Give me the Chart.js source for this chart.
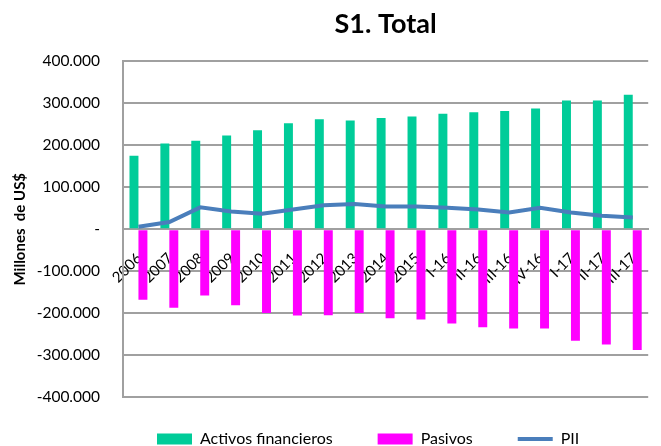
<!DOCTYPE html>
<html>
<head>
<meta charset="utf-8">
<script src="https://cdn.jsdelivr.net/npm/chart.js@4/dist/chart.umd.min.js"></script>
<style>
  html, body { margin: 0; padding: 0; background: #fff; overflow: hidden; }
  #wrap { position: relative; width: 666px; height: 446px; }
</style>
</head>
<body>
<div id="wrap"><canvas id="c"></canvas></div>
<script>
const categories = ["2006","2007","2008","2009","2010","2011","2012","2013","2014","2015","I-16","II-16","III-16","IV-16","I-17","II-17","III-17"];
const activos = [175000,204500,211000,223500,236000,252500,262000,259000,265000,268500,275500,278500,282000,288000,307000,307000,320500];
const pasivos = [-168000,-187000,-158000,-181000,-200000,-206000,-205000,-200000,-212000,-215000,-224500,-234000,-237000,-237000,-266000,-275000,-288000];
const pii = [6000,17000,52000,42000,37000,47000,57000,60000,54000,54000,51000,47000,40000,51000,40000,32000,28000];
const yTicks = [-400000,-300000,-200000,-100000,0,100000,200000,300000,400000];

function fmt(v) {
  if (v === 0) return "-";
  const s = Math.abs(v).toFixed(0).replace(/\B(?=(\d{3})+(?!\d))/g, ".");
  return (v < 0 ? "-" : "") + s;
}

const FONT = "Lato, 'Open Sans', sans-serif";
const GRID = "#a0a0a0";
const LEG_PAD = 45;
const LEG_SHIFT = 11;

const legendShift = {
  id: "legendShift",
  afterLayout(chart) {
    const lg = chart.legend;
    if (lg) { lg.top -= LEG_SHIFT; lg.bottom -= LEG_SHIFT; lg.left -= LEG_SHIFT; }
  }
};

new Chart(document.getElementById("c"), {
  data: {
    labels: categories,
    datasets: [
      { type: "bar", label: "Activos financieros", data: activos, backgroundColor: "#00CC99", order: 1 },
      { type: "bar", label: "Pasivos", data: pasivos, backgroundColor: "#FF00FF", order: 1 },
      { type: "line", label: "PII", data: pii, borderColor: "#4A7EBB", backgroundColor: "#4A7EBB", borderWidth: 4, pointRadius: 0, tension: 0, order: 0 }
    ]
  },
  plugins: [legendShift],
  options: {
    responsive: true,
    maintainAspectRatio: false,
    animation: false,
    layout: { padding: { left: 0, right: 3, top: 0, bottom: -22 } },
    datasets: { bar: { categoryPercentage: 0.58, barPercentage: 1.0 } },
    plugins: {
      tooltip: { enabled: false },
      title: {
        display: true, text: "S1. Total", fullSize: false,
        font: { family: FONT, size: 27, weight: "bold" }, color: "#000",
        padding: { top: 8, bottom: 21 }
      },
      legend: {
        position: "bottom", align: "start", fullSize: false,
        labels: {
          usePointStyle: true, pointStyleWidth: 35, boxHeight: 11, padding: LEG_PAD,
          font: { family: FONT, size: 16 }, color: "#000",
          sort: (a, b) => a.datasetIndex - b.datasetIndex,
          generateLabels: (chart) => chart.data.datasets.map((ds, i) => ({
            text: ds.label,
            fillStyle: ds.backgroundColor,
            strokeStyle: ds.borderColor || ds.backgroundColor,
            lineWidth: ds.type === "line" ? 4 : 0,
            pointStyle: ds.type === "line" ? "line" : "rect",
            datasetIndex: i,
            hidden: false
          }))
        }
      }
    },
    scales: {
      x: {
        position: { y: 0 },
        offset: true,
        grid: { display: false, drawTicks: false },
        border: { display: true, color: GRID, width: 2 },
        ticks: {
          minRotation: 45, maxRotation: 45, autoSkip: false, padding: 20, labelOffset: 1,
          font: { family: FONT, size: 15 }, color: "#000"
        }
      },
      y: {
        min: -400000, max: 400000,
        afterBuildTicks: (s) => { s.ticks = yTicks.map(v => ({ value: v })); },
        afterFit: (s) => { s.width = 123; },
        grid: { color: GRID, lineWidth: 2, drawTicks: false },
        border: { display: true, color: GRID, width: 2 },
        ticks: {
          padding: 23, callback: (v) => fmt(v),
          font: { family: FONT, size: 15.5 }, color: "#000"
        },
        title: {
          display: true, text: "Millones  de US$",
          font: { family: FONT, size: 15, weight: "bold" }, color: "#000",
          padding: { top: 11, bottom: 8 }
        }
      }
    }
  }
});
</script>
</body>
</html>
